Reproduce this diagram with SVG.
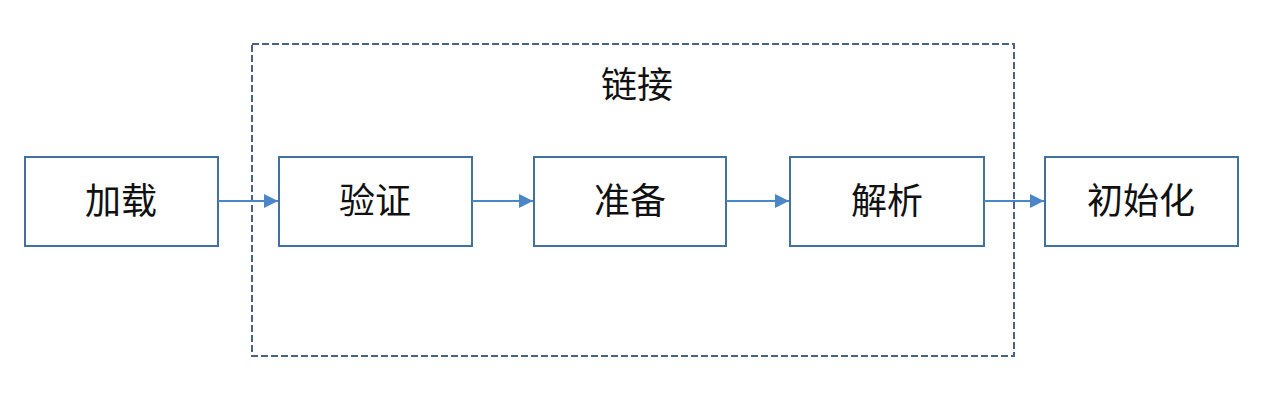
<svg xmlns="http://www.w3.org/2000/svg" width="1265" height="407" viewBox="0 0 1265 407">
<style>
.box{fill:#ffffff;stroke:#41719c;stroke-width:2}
.lbl{font-family:"Liberation Sans","Noto Sans CJK SC",sans-serif;font-size:36px;fill:#111111;text-anchor:middle;dominant-baseline:central}
.conn{stroke:#4a86c8;stroke-width:2;fill:none}
.frame{fill:none;stroke:#4a6284;stroke-width:2;stroke-dasharray:7 3}
</style>
<defs>
<marker id="arr" viewBox="0 0 10 10" refX="10" refY="5" markerWidth="7" markerHeight="7" orient="auto" markerUnits="strokeWidth">
<path d="M0,0 L10,5 L0,10 z" fill="#4a86c8"/>
</marker>
</defs>
<rect width="1265" height="407" fill="#ffffff"/>
<g id="group-link">
<rect class="frame" x="252" y="44" width="762" height="312"/>
<text class="lbl" x="637" y="85">链接</text>
</g>
<g id="node-load"><rect class="box" x="25" y="157" width="193" height="89"/><text class="lbl" x="121" y="201">加载</text></g>
<g id="node-verify"><rect class="box" x="279" y="157" width="193" height="89"/><text class="lbl" x="375" y="201">验证</text></g>
<g id="node-prepare"><rect class="box" x="534" y="157" width="192" height="89"/><text class="lbl" x="630" y="201">准备</text></g>
<g id="node-resolve"><rect class="box" x="790" y="157" width="194" height="89"/><text class="lbl" x="887" y="201">解析</text></g>
<g id="node-init"><rect class="box" x="1045" y="157" width="193" height="89"/><text class="lbl" x="1141" y="201">初始化</text></g>
<g id="connectors">
<line class="conn" x1="218" y1="201" x2="278" y2="201" marker-end="url(#arr)"/>
<line class="conn" x1="472" y1="201" x2="533" y2="201" marker-end="url(#arr)"/>
<line class="conn" x1="726" y1="201" x2="789" y2="201" marker-end="url(#arr)"/>
<line class="conn" x1="984" y1="201" x2="1044" y2="201" marker-end="url(#arr)"/>
</g>
</svg>
